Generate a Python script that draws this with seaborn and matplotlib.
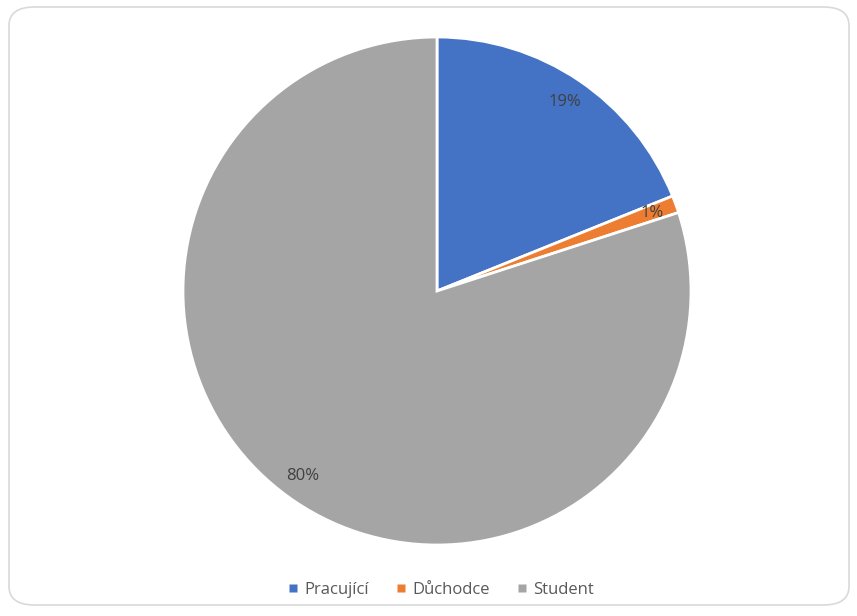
import matplotlib
matplotlib.use("Agg")
import matplotlib.pyplot as plt
import seaborn as sns
from matplotlib.patches import FancyBboxPatch
from matplotlib.lines import Line2D

categories = ["Pracující", "Důchodce", "Student"]
values = [18.9, 1.1, 80.0]
colors = ["#4472C4", "#ED7D31", "#A5A5A5"]

sns.set_theme(style="white")
plt.rcParams["font.family"] = ["Open Sans", "DejaVu Sans"]

W, H = 857, 616
fig = plt.figure(figsize=(W / 100, H / 100), dpi=100)

# rounded chart border
border = FancyBboxPatch((9 / W, 11 / H), 840 / W, 598 / H,
                        boxstyle="round,pad=0,rounding_size=0.03",
                        transform=fig.transFigure, facecolor="none",
                        edgecolor="#d9d9d9", linewidth=1.2, zorder=-1)
fig.patches.append(border)

cx, cy, r = 437, 291, 254
ax = fig.add_axes([(cx - r) / W, (H - cy - r) / H, 2 * r / W, 2 * r / H])
ax.set_facecolor("none")

wedges, texts, autotexts = ax.pie(
    values, colors=colors, startangle=90, counterclock=False,
    autopct=lambda p: f"{p:.0f}%", pctdistance=0.9, radius=1,
    wedgeprops=dict(edgecolor="white", linewidth=2),
    textprops=dict(color="#404040", fontsize=12))
ax.set_aspect("equal")
ax.set_xlim(-1, 1)
ax.set_ylim(-1, 1)

handles = [Line2D([], [], marker="s", linestyle="none", markersize=6,
                  markerfacecolor=c, markeredgecolor="none") for c in colors]
fig.legend(handles, categories, loc="center", bbox_to_anchor=(441 / W, 1 - 590 / H),
           ncol=3, frameon=False, fontsize=12, handlelength=0.6,
           handletextpad=0.4, columnspacing=1.6, labelcolor="#595959")

fig.savefig("out.png", dpi=100)
